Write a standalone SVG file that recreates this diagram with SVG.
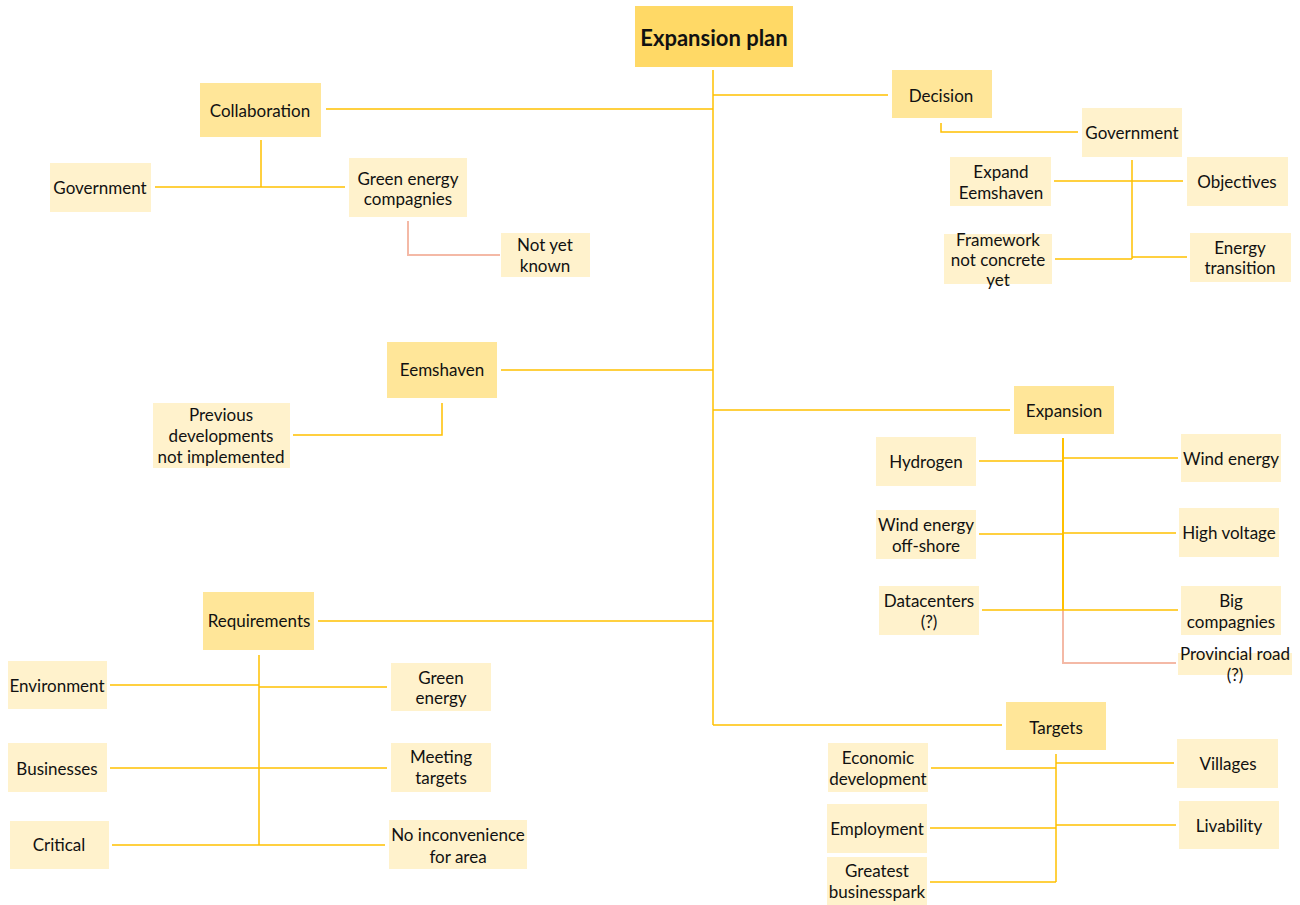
<svg xmlns="http://www.w3.org/2000/svg" width="1300" height="905" viewBox="0 0 1300 905">
  <style>
    text { font-family: Lato, "Liberation Sans", sans-serif; font-size: 17px; fill: #111; text-anchor: middle; dominant-baseline: central; }
    .root rect { fill: #FFD966; }
    .root text { font-weight: bold; font-size: 22px; }
    .main rect { fill: #FFE699; }
    .leaf rect { fill: #FFF2CC; }
    .conn { fill: none; stroke: #FFC000; stroke-width: 1.5; }
    .conn .pink { stroke: #F4B9A6; stroke-width: 2; }
    .conn .thick { stroke-width: 2; }
  </style>
  <rect width="1300" height="905" fill="#ffffff"/>

  <!-- connectors -->
  <g id="connectors" class="conn">
    <path class="pink" d="M408 221 V255 H500"/>
    <path class="pink" d="M1063 610 V663 H1176"/>
    <!-- trunk -->
    <path d="M713 70 V725"/>
    <path d="M326 109 H713"/>
    <path d="M713 95 H888"/>
    <path d="M501 370 H713"/>
    <path d="M713 410 H1010"/>
    <path d="M318 621 H713"/>
    <path d="M713 725 H1002"/>
    <!-- collaboration -->
    <path d="M261 140 V187"/>
    <path d="M155 187 H345"/>
    <!-- eemshaven -->
    <path d="M442 403 V435 H293"/>
    <!-- decision -->
    <path d="M941 123 V132 H1078"/>
    <path d="M1132 160 V259"/>
    <path d="M1054 181 H1183"/>
    <path d="M1055 259 H1132"/>
    <path d="M1132 257 H1187"/>
    <!-- expansion -->
    <path class="thick" d="M1063 438 V610"/>
    <path d="M979 461 H1063"/>
    <path d="M1063 458 H1178"/>
    <path d="M979 534 H1063"/>
    <path d="M1063 533 H1176"/>
    <path d="M982 610 H1178"/>
    <!-- requirements -->
    <path d="M259 655 V845"/>
    <path d="M110 685 H259"/>
    <path d="M259 687 H387"/>
    <path d="M110 768 H387"/>
    <path d="M112 845 H385"/>
    <!-- targets -->
    <path d="M1056 754 V882"/>
    <path d="M931 768 H1056"/>
    <path d="M1056 763 H1174"/>
    <path d="M930 828 H1056"/>
    <path d="M1056 825 H1176"/>
    <path d="M930 882 H1056"/>
  </g>

  <!-- root -->
  <g id="expansion-plan" class="root">
    <rect x="635" y="6" width="158" height="61"/>
    <text x="714" y="37">Expansion plan</text>
  </g>

  <!-- level 1 -->
  <g id="collaboration" class="main">
    <rect x="200" y="83" width="121" height="54"/>
    <text x="260" y="110">Collaboration</text>
  </g>
  <g id="eemshaven" class="main">
    <rect x="387" y="342" width="110" height="56"/>
    <text x="442" y="369">Eemshaven</text>
  </g>
  <g id="requirements" class="main">
    <rect x="203" y="592" width="111" height="58"/>
    <text x="259" y="620">Requirements</text>
  </g>
  <g id="decision" class="main">
    <rect x="892" y="70" width="100" height="48"/>
    <text x="941" y="95">Decision</text>
  </g>
  <g id="expansion" class="main">
    <rect x="1014" y="386" width="100" height="48"/>
    <text x="1064" y="410">Expansion</text>
  </g>
  <g id="targets" class="main">
    <rect x="1006" y="702" width="100" height="48"/>
    <text x="1056" y="727">Targets</text>
  </g>

  <!-- collaboration leaves -->
  <g id="government-left" class="leaf">
    <rect x="50" y="163" width="101" height="49"/>
    <text x="100" y="187">Government</text>
  </g>
  <g id="green-energy-compagnies" class="leaf">
    <rect x="349" y="158" width="118" height="59"/>
    <text x="408" y="178">Green energy</text>
    <text x="408" y="198">compagnies</text>
  </g>
  <g id="not-yet-known" class="leaf">
    <rect x="501" y="233" width="89" height="44"/>
    <text x="545" y="244">Not yet</text>
    <text x="545" y="265">known</text>
  </g>

  <!-- eemshaven leaf -->
  <g id="previous-developments" class="leaf">
    <rect x="153" y="403" width="137" height="65"/>
    <text x="221" y="414">Previous</text>
    <text x="221" y="435">developments</text>
    <text x="221" y="456">not implemented</text>
  </g>

  <!-- requirements leaves -->
  <g id="environment" class="leaf">
    <rect x="8" y="661" width="99" height="48"/>
    <text x="57" y="685">Environment</text>
  </g>
  <g id="green-energy" class="leaf">
    <rect x="391" y="663" width="100" height="48"/>
    <text x="441" y="677">Green</text>
    <text x="441" y="697">energy</text>
  </g>
  <g id="businesses" class="leaf">
    <rect x="8" y="743" width="99" height="49"/>
    <text x="57" y="768">Businesses</text>
  </g>
  <g id="meeting-targets" class="leaf">
    <rect x="391" y="743" width="100" height="49"/>
    <text x="441" y="756">Meeting</text>
    <text x="441" y="777">targets</text>
  </g>
  <g id="critical" class="leaf">
    <rect x="10" y="821" width="99" height="48"/>
    <text x="59" y="844">Critical</text>
  </g>
  <g id="no-inconvenience" class="leaf">
    <rect x="389" y="820" width="138" height="49"/>
    <text x="458" y="834">No inconvenience</text>
    <text x="458" y="856">for area</text>
  </g>

  <!-- decision leaves -->
  <g id="government-right" class="leaf">
    <rect x="1082" y="108" width="100" height="49"/>
    <text x="1132" y="132">Government</text>
  </g>
  <g id="expand-eemshaven" class="leaf">
    <rect x="950" y="157" width="101" height="49"/>
    <text x="1001" y="171">Expand</text>
    <text x="1001" y="192">Eemshaven</text>
  </g>
  <g id="objectives" class="leaf">
    <rect x="1187" y="157" width="101" height="49"/>
    <text x="1237" y="181">Objectives</text>
  </g>
  <g id="framework" class="leaf">
    <rect x="944" y="234" width="108" height="50"/>
    <text x="998" y="239">Framework</text>
    <text x="998" y="259">not concrete</text>
    <text x="998" y="279">yet</text>
  </g>
  <g id="energy-transition" class="leaf">
    <rect x="1190" y="233" width="101" height="49"/>
    <text x="1240" y="247">Energy</text>
    <text x="1240" y="267">transition</text>
  </g>

  <!-- expansion leaves -->
  <g id="hydrogen" class="leaf">
    <rect x="876" y="437" width="100" height="49"/>
    <text x="926" y="461">Hydrogen</text>
  </g>
  <g id="wind-energy" class="leaf">
    <rect x="1181" y="434" width="100" height="48"/>
    <text x="1231" y="458">Wind energy</text>
  </g>
  <g id="wind-energy-offshore" class="leaf">
    <rect x="876" y="510" width="100" height="49"/>
    <text x="926" y="524">Wind energy</text>
    <text x="926" y="545">off-shore</text>
  </g>
  <g id="high-voltage" class="leaf">
    <rect x="1179" y="508" width="100" height="49"/>
    <text x="1229" y="532">High voltage</text>
  </g>
  <g id="datacenters" class="leaf">
    <rect x="879" y="586" width="100" height="49"/>
    <text x="929" y="600">Datacenters</text>
    <text x="929" y="621">(?)</text>
  </g>
  <g id="big-compagnies" class="leaf">
    <rect x="1181" y="586" width="100" height="49"/>
    <text x="1231" y="600">Big</text>
    <text x="1231" y="621">compagnies</text>
  </g>
  <g id="provincial-road" class="leaf">
    <rect x="1178" y="653" width="114" height="22"/>
    <text x="1235" y="653">Provincial road</text>
    <text x="1235" y="674">(?)</text>
  </g>

  <!-- targets leaves -->
  <g id="economic-development" class="leaf">
    <rect x="828" y="743" width="100" height="49"/>
    <text x="878" y="757">Economic</text>
    <text x="878" y="778">development</text>
  </g>
  <g id="villages" class="leaf">
    <rect x="1177" y="739" width="101" height="49"/>
    <text x="1228" y="763">Villages</text>
  </g>
  <g id="employment" class="leaf">
    <rect x="827" y="804" width="100" height="49"/>
    <text x="877" y="828">Employment</text>
  </g>
  <g id="livability" class="leaf">
    <rect x="1179" y="801" width="100" height="48"/>
    <text x="1229" y="825">Livability</text>
  </g>
  <g id="greatest-businesspark" class="leaf">
    <rect x="827" y="857" width="100" height="48"/>
    <text x="877" y="870">Greatest</text>
    <text x="877" y="891">businesspark</text>
  </g>
</svg>
